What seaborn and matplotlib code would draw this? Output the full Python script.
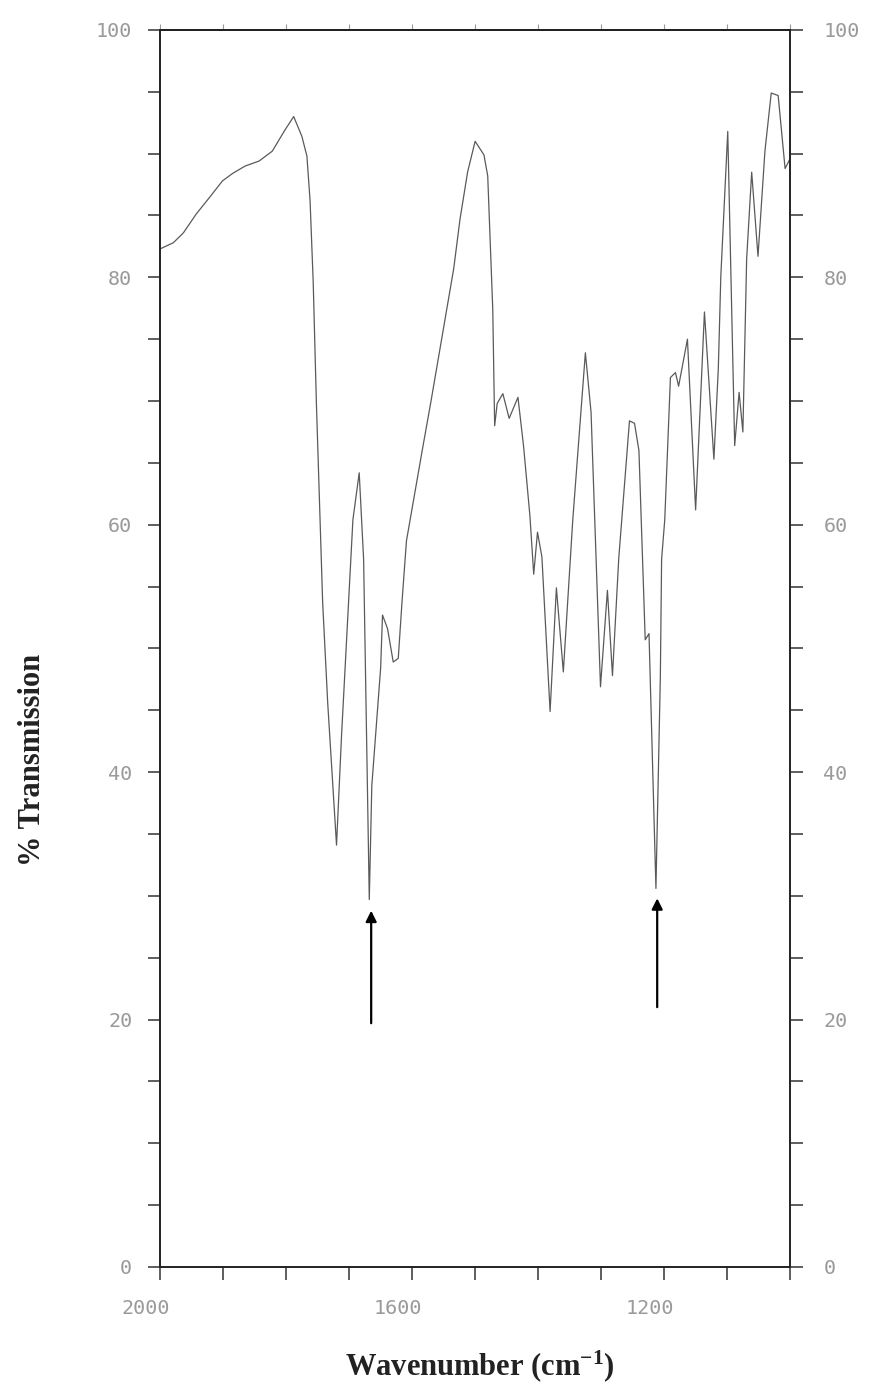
import numpy as np
import pandas as pd
import seaborn as sns
import matplotlib.pyplot as plt
import matplotlib.transforms as mtransforms

# IR spectrum (wavenumber in cm-1, % transmission)
wavenumber = [2000, 1979, 1963, 1943, 1921, 1901, 1885, 1865, 1843, 1822,
              1802, 1788, 1775, 1767, 1762, 1757, 1752, 1742, 1734, 1720,
              1712, 1694, 1684, 1677, 1668, 1664, 1650, 1647, 1639, 1630,
              1622, 1616, 1609, 1584, 1570, 1534, 1524, 1512, 1500, 1486,
              1480, 1472, 1469, 1465, 1456, 1446, 1432, 1423, 1413, 1407,
              1401, 1394, 1381, 1371, 1360, 1345, 1325, 1316, 1301, 1290,
              1282, 1272, 1255, 1247, 1240, 1230, 1224, 1213, 1206, 1204,
              1199, 1190, 1182, 1177, 1163, 1150, 1136, 1121, 1114, 1110,
              1099, 1088, 1081, 1075, 1069, 1061, 1051, 1040, 1030, 1019,
              1008, 1000]
transmission = [82.3, 82.8, 83.6, 85.1, 86.5, 87.8, 88.4, 89.0, 89.4, 90.2,
                91.9, 93.0, 91.4, 89.8, 86.2, 79.6, 69.9, 53.7, 45.6, 34.1,
                43.0, 60.4, 64.2, 57.2, 29.7, 38.9, 48.4, 52.7, 51.6, 48.9,
                49.2, 53.8, 58.7, 66.0, 70.0, 80.7, 84.7, 88.5, 91.0, 89.9,
                88.2, 77.4, 68.0, 69.8, 70.6, 68.6, 70.3, 66.3, 60.7, 56.0,
                59.4, 57.4, 44.9, 54.9, 48.1, 60.4, 73.9, 69.1, 46.9, 54.7,
                47.8, 57.3, 68.4, 68.2, 66.0, 50.7, 51.2, 30.6, 47.7, 57.2,
                60.4, 71.9, 72.3, 71.2, 75.0, 61.2, 77.2, 65.3, 72.6, 80.1,
                91.8, 66.4, 70.7, 67.5, 81.5, 88.5, 81.7, 90.2, 94.9, 94.7,
                88.8, 89.6]

# hand drawn arrows under the two marked bands
arrow_wavenumber = [1665, 1211]
arrow_tail = [19.7, 21.0]
arrow_head = [28.8, 29.8]

x_ticks = [2000, 1900, 1800, 1700, 1600, 1500, 1400, 1300, 1200, 1100, 1000]
x_labelled = [2000, 1600, 1200]
y_ticks = list(range(0, 101, 5))
y_labelled = [0, 20, 40, 60, 80, 100]

df = pd.DataFrame({"wn": wavenumber, "T": transmission})

sns.set_style("ticks")
plt.rcParams["font.family"] = ["DejaVu Sans Mono", "DejaVu Sans"]
plt.rcParams["mathtext.default"] = "regular"

tick_col = "#333333"
lab_col = "#9a9a9a"

fig = plt.figure(figsize=(8.75, 13.93), dpi=100)
ax = fig.add_axes([0.183, 0.0905, 0.72, 0.888])

sns.lineplot(data=df, x="wn", y="T", ax=ax, sort=False, estimator=None,
             color="#5a5a5a", lw=0.9)

for wn, y0, y1 in zip(arrow_wavenumber, arrow_tail, arrow_head):
    ax.annotate("", xy=(wn, y1), xytext=(wn, y0),
                arrowprops=dict(arrowstyle="-|>", color="black", lw=1.6,
                                mutation_scale=16, shrinkA=0, shrinkB=0))

ax.set_xlim(2000, 1000)
ax.set_ylim(0, 100)

ax.set_xticks(x_ticks)
ax.set_xticklabels([str(t) if t in x_labelled else "" for t in x_ticks])
ax.set_yticks(y_ticks)
ax.set_yticklabels([str(t) if t in y_labelled else "" for t in y_ticks])

ax.tick_params(axis="y", left=True, right=False, direction="out", length=9,
               width=1.1, color=tick_col, labelcolor=lab_col, labelsize=14.5,
               pad=11)
ax.tick_params(axis="x", bottom=True, top=False, direction="out", length=9,
               width=1.1, color=tick_col, labelcolor=lab_col, labelsize=14.5,
               pad=14)

# the printed x labels sit a little left of their ticks
shift = mtransforms.ScaledTranslation(-0.14, 0, fig.dpi_scale_trans)
for lab in ax.get_xticklabels():
    lab.set_transform(lab.get_transform() + shift)

# right hand scale
ax2 = ax.twinx()
ax2.set_ylim(0, 100)
ax2.set_yticks(y_ticks)
ax2.set_yticklabels([str(t) if t in y_labelled else "" for t in y_ticks])
ax2.tick_params(axis="y", direction="out", length=9, width=1.1, color=tick_col,
                labelcolor=lab_col, labelsize=14.5, pad=15)
ax2.grid(False)

top = ax.secondary_xaxis("top")
top.set_xticks(x_ticks)
top.set_xticklabels([])
top.tick_params(direction="out", length=4, width=0.8, color="#9a9a9a")
top.spines["top"].set_linewidth(1.4)
top.spines["top"].set_color("#222222")

for a in [ax, ax2]:
    for side in ["left", "right", "bottom", "top"]:
        a.spines[side].set_visible(True)
        a.spines[side].set_color("#222222")
        a.spines[side].set_linewidth(1.2)

ax.set_xlabel("Wavenumber (cm$^{-1}$)", fontfamily="Liberation Serif",
              fontweight="bold", fontsize=22, color="#222222")
ax.set_ylabel("% Transmission", fontfamily="Liberation Serif",
              fontweight="bold", fontsize=22, color="#222222")
ax.xaxis.set_label_coords(0.508, -0.066)
ax.yaxis.set_label_coords(-0.179, 0.41)

plt.savefig("out.png", dpi=100, facecolor="white")
